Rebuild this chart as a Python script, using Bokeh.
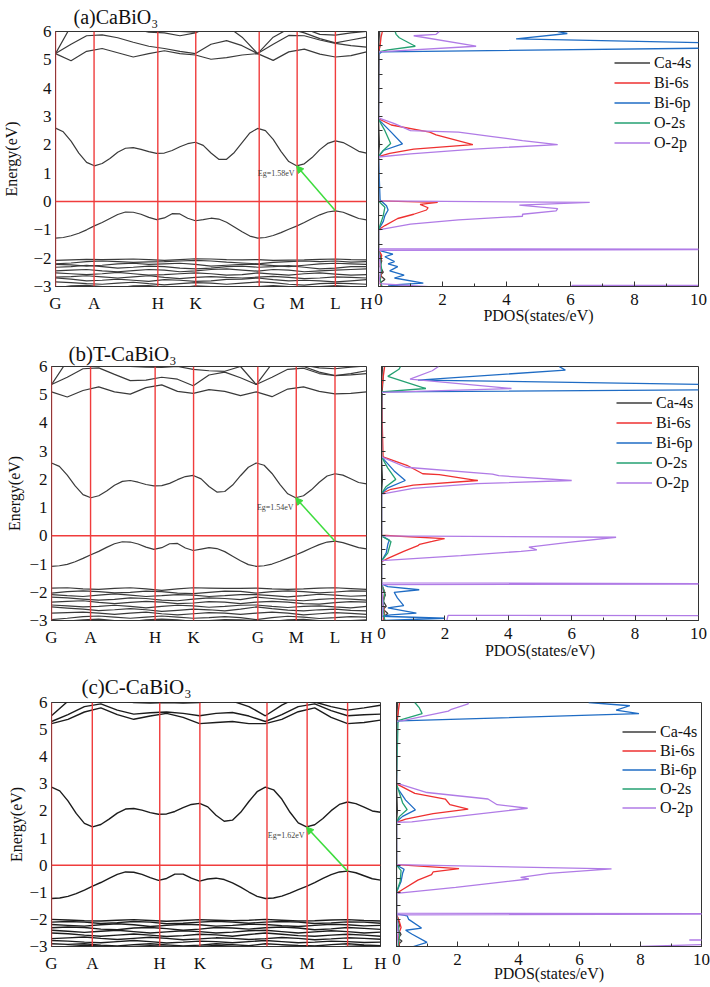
import math
from bokeh.plotting import figure
from bokeh.layouts import column, row
from bokeh.models import (Span, Label, Arrow, NormalHead, FixedTicker, Legend,
                          LegendItem, Range1d, CustomJSTickFormatter)
from bokeh.embed import file_html
from bokeh.resources import INLINE

NAN = float("nan")

# ---------------- k-path ----------------
K_POS = [0.0, 0.124, 0.329, 0.451, 0.655, 0.777, 0.9, 1.0]
K_LABELS = ["G", "A", "H", "K", "G", "M", "L", "H"]
E_TICKS = [-3, -2, -1, 0, 1, 2, 3, 4, 5, 6]
E_MINOR = [-2.5, -1.5, -0.5, 0.5, 1.5, 2.5, 3.5, 4.5, 5.5]
D_TICKS = [0, 2, 4, 6, 8, 10]
D_MINOR = [1, 3, 5, 7, 9]

X_FINE = [0.0, 0.025, 0.05, 0.075, 0.1, 0.125, 0.15, 0.175, 0.2, 0.225, 0.25,
          0.275, 0.3, 0.325, 0.35, 0.375, 0.4, 0.425, 0.45, 0.475, 0.5, 0.525,
          0.55, 0.575, 0.6, 0.625, 0.65, 0.675, 0.7, 0.725, 0.75, 0.775, 0.8,
          0.825, 0.85, 0.875, 0.9, 0.925, 0.95, 0.975, 1.0]
X_COARSE = [0.0, 0.05, 0.1, 0.15, 0.2, 0.25, 0.3, 0.35, 0.4, 0.45, 0.5, 0.55,
            0.6, 0.65, 0.7, 0.75, 0.8, 0.85, 0.9, 0.95, 1.0]

TITLES = ["(a)CaBiO\u2083", "(b)T-CaBiO\u2083", "(c)C-CaBiO\u2083"]
EG_VALUES = [1.58, 1.54, 1.62]
SPECIES = ["Ca-4s", "Bi-6s", "Bi-6p", "O-2s", "O-2p"]

# ---------------- (a) CaBiO3 bands ----------------
A_CB = [2.59, 2.46, 2.13, 1.71, 1.38, 1.26, 1.34, 1.52, 1.74, 1.88, 1.90, 1.84, 1.76, 1.70, 1.71,
        1.80, 1.93, 2.04, 2.09, 1.98, 1.71, 1.49, 1.49, 1.73, 2.08, 2.42, 2.58, 2.50, 2.19, 1.77,
        1.41, 1.26, 1.33, 1.55, 1.83, 2.05, 2.14, 2.08, 1.93, 1.77, 1.71]
A_VB = [-1.29, -1.27, -1.21, -1.12, -1.00, -0.86, -0.74, -0.60, -0.46, -0.37, -0.38, -0.45, -0.56,
        -0.64, -0.58, -0.43, -0.44, -0.59, -0.68, -0.64, -0.59, -0.62, -0.73, -0.90, -1.07, -1.22,
        -1.29, -1.27, -1.20, -1.10, -0.98, -0.87, -0.74, -0.60, -0.47, -0.37, -0.33, -0.38, -0.49,
        -0.60, -0.65]
A_UP1 = [5.22, 4.97, 5.30, 5.40, 5.25, 5.10, 5.22, 5.32, 5.22, 5.17, 5.02, 5.08, 5.17, 5.22, 4.98, 5.28, 5.38, 5.20, 5.10, 5.15, 5.28]
A_UP2 = [5.22, 5.55, 5.85, 5.88, 5.78, 5.62, 5.48, 5.40, 5.30, 5.22, 5.55, 5.68, 5.50, 5.22, 5.55, 5.86, 5.85, 5.70, 5.58, 5.50, 5.45]
A_UP3 = [5.22, 6.20, 6.40, 6.40, 6.30, 6.10, 5.98, 5.95, 5.85, 5.95, 6.20, 6.20, 5.80, 5.22, 5.80, 6.10, 5.95, 5.75, 5.60, 5.70, 5.80]
A_UP4 = [6.50, 6.50, 6.30, 6.05, 6.00, 6.10, 6.20, 6.20, 6.00, 5.98, 6.20, 6.40, 6.30, 6.10, 6.40, 6.30, 6.10, 5.90, 5.87, 5.95, 6.00]
A_LO1 = [-2.08, -2.06, -2.04, -2.05, -2.04, -2.03, -2.05, -2.08, -2.05, -2.02, -2.03, -2.05, -2.06, -2.05, -2.08, -2.07, -2.06, -2.04, -2.03, -2.05, -2.06]
A_LO2 = [-2.20, -2.17, -2.12, -2.10, -2.12, -2.15, -2.13, -2.12, -2.10, -2.08, -2.10, -2.14, -2.17, -2.20, -2.15, -2.12, -2.10, -2.12, -2.10, -2.14, -2.12]
A_LO3 = [-2.22, -2.24, -2.28, -2.25, -2.20, -2.18, -2.22, -2.20, -2.18, -2.22, -2.28, -2.25, -2.22, -2.22, -2.26, -2.30, -2.25, -2.20, -2.18, -2.20, -2.22]
A_LO4 = [-2.32, -2.30, -2.25, -2.30, -2.35, -2.32, -2.28, -2.30, -2.35, -2.38, -2.35, -2.30, -2.28, -2.32, -2.30, -2.26, -2.32, -2.38, -2.35, -2.30, -2.30]
A_LO5 = [-2.45, -2.42, -2.40, -2.45, -2.48, -2.44, -2.40, -2.42, -2.48, -2.45, -2.40, -2.38, -2.42, -2.46, -2.40, -2.42, -2.48, -2.45, -2.42, -2.40, -2.38]
A_LO6 = [-2.52, -2.55, -2.58, -2.55, -2.50, -2.55, -2.60, -2.58, -2.55, -2.52, -2.55, -2.60, -2.58, -2.52, -2.56, -2.60, -2.55, -2.52, -2.56, -2.60, -2.58]
A_LO7 = [-2.67, -2.65, -2.62, -2.66, -2.70, -2.66, -2.62, -2.68, -2.72, -2.68, -2.65, -2.68, -2.70, -2.67, -2.64, -2.68, -2.72, -2.70, -2.66, -2.68, -2.70]
A_LO8 = [-2.70, -2.74, -2.80, -2.78, -2.74, -2.78, -2.82, -2.76, -2.78, -2.82, -2.80, -2.75, -2.74, -2.70, -2.76, -2.80, -2.78, -2.80, -2.84, -2.80, -2.76]
A_LO9 = [-2.84, -2.86, -2.90, -2.92, -2.88, -2.85, -2.90, -2.94, -2.90, -2.86, -2.88, -2.92, -2.88, -2.84, -2.86, -2.92, -2.95, -2.90, -2.88, -2.90, -2.92]
A_LO10 = [-3.05, -2.98, -2.96, -3.00, -3.05, -2.98, -2.97, -3.02, -3.05, -2.98, -3.00, -3.05, -3.02, -3.00, -2.97, -3.00, -3.05, -3.00, -2.97, -3.00, -3.02]

# ---------------- (b) T-CaBiO3 bands ----------------
B_CB = [2.58, 2.46, 2.15, 1.77, 1.46, 1.35, 1.42, 1.59, 1.79, 1.93, 1.96, 1.90, 1.82, 1.77, 1.78,
        1.86, 1.99, 2.10, 2.14, 2.02, 1.75, 1.55, 1.57, 1.80, 2.13, 2.43, 2.58, 2.50, 2.21, 1.82,
        1.49, 1.35, 1.42, 1.63, 1.90, 2.12, 2.20, 2.15, 2.02, 1.89, 1.84]
B_VB = [-1.08, -1.06, -1.01, -0.92, -0.80, -0.67, -0.55, -0.41, -0.28, -0.21, -0.22, -0.29, -0.40,
        -0.48, -0.42, -0.28, -0.27, -0.43, -0.52, -0.47, -0.42, -0.45, -0.56, -0.72, -0.88, -1.02,
        -1.08, -1.06, -1.00, -0.90, -0.79, -0.68, -0.56, -0.43, -0.31, -0.22, -0.19, -0.24, -0.33,
        -0.42, -0.46]
B_UP1 = [5.10, 4.92, 5.15, 5.28, 5.10, 5.02, 5.25, 5.35, 5.12, 5.05, 5.18, 5.12, 4.97, 5.10, 4.93, 5.20, 5.28, 5.12, 5.03, 5.05, 5.10]
B_UP2 = [5.36, 5.62, 5.92, 5.95, 5.72, 5.50, 5.52, 5.62, 5.55, 5.32, 5.70, 5.80, 5.60, 5.36, 5.62, 5.90, 5.94, 5.75, 5.68, 5.70, 5.75]
B_UP3 = [5.36, 6.20, 6.40, 6.30, 6.10, 6.00, 5.98, 5.97, 6.00, 5.90, 5.85, 5.83, 6.00, 5.36, 6.10, 6.20, 6.00, 5.80, 5.68, 5.75, 5.85]
B_UP4 = [6.40, 6.50, 6.30, 6.05, 6.00, 6.15, 6.30, 6.20, 6.05, 6.00, 6.20, 6.30, 6.30, 6.20, 6.40, 6.20, 6.05, 5.95, 5.92, 5.98, 6.02]
B_LO1 = [-1.85, -1.84, -1.88, -1.90, -1.86, -1.84, -1.88, -1.93, -1.88, -1.84, -1.85, -1.86, -1.86, -1.85, -1.88, -1.90, -1.88, -1.85, -1.84, -1.87, -1.90]
B_LO2 = [-2.03, -1.98, -1.95, -1.98, -2.02, -2.00, -1.96, -1.98, -2.03, -2.05, -2.00, -1.96, -1.97, -2.03, -1.98, -1.95, -1.98, -2.02, -1.99, -1.95, -1.96]
B_LO3 = [-2.08, -2.12, -2.15, -2.10, -2.06, -2.10, -2.15, -2.12, -2.08, -2.10, -2.15, -2.12, -2.08, -2.08, -2.12, -2.16, -2.12, -2.07, -2.10, -2.14, -2.12]
B_LO4 = [-2.17, -2.20, -2.24, -2.28, -2.25, -2.20, -2.22, -2.28, -2.30, -2.24, -2.20, -2.22, -2.26, -2.17, -2.22, -2.27, -2.30, -2.25, -2.22, -2.24, -2.28]
B_LO5 = [-2.35, -2.32, -2.30, -2.36, -2.40, -2.36, -2.32, -2.35, -2.40, -2.38, -2.33, -2.35, -2.40, -2.35, -2.32, -2.35, -2.40, -2.42, -2.37, -2.33, -2.35]
B_LO6 = [-2.45, -2.48, -2.52, -2.50, -2.46, -2.50, -2.55, -2.50, -2.46, -2.48, -2.53, -2.50, -2.46, -2.45, -2.50, -2.54, -2.50, -2.48, -2.52, -2.55, -2.50]
B_LO7 = [-2.52, -2.56, -2.60, -2.65, -2.62, -2.58, -2.62, -2.68, -2.64, -2.60, -2.62, -2.66, -2.60, -2.52, -2.58, -2.63, -2.66, -2.62, -2.60, -2.64, -2.66]
B_LO8 = [-2.74, -2.72, -2.70, -2.74, -2.78, -2.74, -2.70, -2.76, -2.80, -2.76, -2.72, -2.74, -2.78, -2.74, -2.70, -2.74, -2.80, -2.76, -2.72, -2.75, -2.78]
B_LO9 = [-2.97, -2.92, -2.86, -2.84, -2.88, -2.92, -2.88, -2.84, -2.88, -2.92, -2.90, -2.86, -2.90, -2.97, -2.90, -2.85, -2.88, -2.93, -2.90, -2.86, -2.88]
B_LO10 = [-3.00, -3.02, -2.98, -2.95, -3.00, -3.04, -2.98, -2.95, -2.98, -3.03, -3.00, -2.97, -2.98, -3.00, -3.03, -2.98, -2.96, -3.00, -3.03, -3.00, -2.98]

# ---------------- (c) C-CaBiO3 bands ----------------
C_CB = [2.88, 2.74, 2.37, 1.91, 1.54, 1.41, 1.50, 1.70, 1.92, 2.07, 2.09, 2.03, 1.94, 1.88, 1.89,
        1.98, 2.12, 2.24, 2.28, 2.15, 1.84, 1.62, 1.66, 1.95, 2.35, 2.71, 2.88, 2.78, 2.44, 1.95,
        1.56, 1.41, 1.49, 1.72, 2.01, 2.24, 2.33, 2.27, 2.14, 2.00, 1.95]
C_VB = [-1.23, -1.21, -1.15, -1.05, -0.92, -0.77, -0.64, -0.49, -0.34, -0.25, -0.26, -0.34, -0.46,
        -0.56, -0.49, -0.33, -0.33, -0.48, -0.59, -0.51, -0.48, -0.53, -0.65, -0.81, -0.99, -1.15,
        -1.23, -1.21, -1.14, -1.03, -0.90, -0.78, -0.64, -0.49, -0.35, -0.25, -0.22, -0.28, -0.39,
        -0.50, -0.55]
C_UP1 = [5.22, 5.38, 5.65, 5.80, 5.55, 5.38, 5.50, 5.60, 5.45, 5.22, 5.26, 5.30, 5.22, 5.22, 5.38, 5.66, 5.80, 5.45, 5.22, 5.26, 5.35]
C_UP2 = [5.30, 5.55, 5.85, 5.95, 5.72, 5.57, 5.62, 5.65, 5.60, 5.51, 5.60, 5.63, 5.50, 5.30, 5.55, 5.85, 5.95, 5.70, 5.51, 5.55, 5.57]
C_UP3 = [5.51, 6.05, 6.30, 6.30, 6.10, 6.00, 5.98, 6.00, 5.98, 6.00, 6.10, 6.05, 5.85, 5.51, 5.90, 6.20, 6.02, 5.85, 5.72, 5.80, 5.90]
C_UP4 = [6.30, 6.40, 6.20, 6.02, 6.10, 6.20, 6.30, 6.20, 6.10, 6.05, 6.30, 6.40, 6.30, 6.30, 6.40, 6.10, 6.00, 6.08, 6.20, 6.10, 6.05]
C_LO1 = [-2.00, -2.02, -2.05, -2.06, -2.03, -2.01, -2.04, -2.07, -2.04, -2.01, -2.03, -2.05, -2.03, -2.00, -2.03, -2.06, -2.05, -2.02, -2.01, -2.04, -2.06]
C_LO2 = [-2.10, -2.08, -2.10, -2.15, -2.12, -2.08, -2.10, -2.16, -2.14, -2.10, -2.07, -2.10, -2.14, -2.10, -2.08, -2.10, -2.15, -2.13, -2.09, -2.10, -2.14]
C_LO3 = [-2.19, -2.22, -2.25, -2.20, -2.16, -2.20, -2.26, -2.22, -2.18, -2.20, -2.25, -2.22, -2.18, -2.19, -2.23, -2.26, -2.22, -2.18, -2.20, -2.24, -2.22]
C_LO4 = [-2.31, -2.28, -2.30, -2.36, -2.38, -2.32, -2.30, -2.34, -2.40, -2.36, -2.30, -2.32, -2.36, -2.31, -2.28, -2.32, -2.38, -2.35, -2.30, -2.33, -2.37]
C_LO5 = [-2.40, -2.44, -2.48, -2.44, -2.40, -2.45, -2.50, -2.46, -2.42, -2.45, -2.50, -2.47, -2.42, -2.40, -2.45, -2.50, -2.46, -2.42, -2.45, -2.50, -2.47]
C_LO6 = [-2.50, -2.53, -2.58, -2.62, -2.58, -2.54, -2.58, -2.63, -2.60, -2.55, -2.57, -2.62, -2.56, -2.50, -2.55, -2.60, -2.62, -2.58, -2.55, -2.58, -2.62]
C_LO7 = [-2.71, -2.68, -2.65, -2.70, -2.74, -2.70, -2.66, -2.70, -2.75, -2.72, -2.68, -2.70, -2.74, -2.71, -2.67, -2.70, -2.75, -2.72, -2.68, -2.70, -2.73]
C_LO8 = [-2.78, -2.80, -2.84, -2.86, -2.82, -2.78, -2.82, -2.87, -2.84, -2.80, -2.82, -2.86, -2.82, -2.78, -2.82, -2.86, -2.84, -2.80, -2.82, -2.85, -2.84]
C_LO9 = [-2.90, -2.92, -2.90, -2.95, -2.98, -2.93, -2.90, -2.94, -2.98, -2.95, -2.90, -2.93, -2.97, -2.90, -2.93, -2.96, -2.98, -2.93, -2.90, -2.94, -2.97]
C_LO10 = [-3.05, -3.00, -2.96, -2.98, -3.03, -3.00, -2.97, -2.99, -3.04, -3.00, -2.96, -2.99, -3.03, -3.05, -3.00, -2.97, -3.00, -3.04, -3.00, -2.97, -3.00]

# ---------------- PDOS (states/eV) vs energy ----------------
# (a)
A_CA_E = [6.0, 5.6, 5.3, 2.9, 2.0, 1.6, 0.0, -1.0, -1.7, -1.9, -2.1, -2.3, -2.5, -2.6, -2.75, -2.85, -3.0]
A_CA_D = [0.03, 0.05, 0.02, 0.0, 0.03, 0.0, 0.0, 0.0, 0.0, 0.05, 0.1, 0.05, 0.15, 0.05, 0.2, 0.08, 0.1]
A_BIS_E = [6.0, 5.8, 5.5, 5.3, 2.92, 2.7, 2.45, 2.35, 2.01, 1.85, 1.7, 1.58, 0.02, -0.03, -0.1, -0.22, -0.3, -0.45, -0.6, -0.85, -1.0, -1.7, -1.9, -2.2, -2.5, -2.8, -3.0]
A_BIS_D = [0.12, 0.08, 0.05, 0.0, 0.0, 0.4, 1.6, 1.8, 2.95, 1.1, 0.35, 0.0, 0.0, 1.85, 1.3, 1.55, 1.5, 1.1, 0.6, 0.2, 0.0, 0.0, 0.1, 0.05, 0.1, 0.05, 0.08]
A_BIP_E = [6.0, 5.93, 5.74, 5.52, 5.46, 5.28, 5.2, 2.9, 2.5, 2.03, 1.8, 1.58, 0.05, -0.15, -0.3, -0.5, -0.7, -1.0, -1.7, -1.75, -1.86, -1.95, -2.12, -2.2, -2.3, -2.45, -2.6, -2.7, -2.88, -2.95, -3.0]
A_BIP_D = [5.6, 5.9, 4.3, 14.0, 14.0, 0.1, 0.0, 0.0, 0.35, 0.75, 0.15, 0.0, 0.05, 0.25, 0.3, 0.2, 0.15, 0.0, 0.0, 0.1, 0.45, 0.2, 0.5, 0.3, 0.6, 0.35, 0.8, 0.5, 1.4, 0.3, 1.0]
A_OS_E = [6.0, 5.9, 5.78, 5.48, 5.35, 5.28, 2.9, 2.5, 2.05, 1.8, 1.6, 0.02, -0.2, -0.5, -1.0, -1.7, -2.0, -2.4, -2.7, -3.0]
A_OS_D = [0.52, 0.55, 0.65, 1.15, 0.3, 0.0, 0.0, 0.2, 0.38, 0.15, 0.0, 0.0, 0.2, 0.15, 0.0, 0.0, 0.05, 0.1, 0.05, 0.1]
A_OP_E = [6.0, 5.9, 5.85, 5.48, 5.28, 2.95, 2.75, 2.5, 2.45, 2.3, 2.15, 2.01, 1.85, 1.68, 1.57, 0.02, -0.03, -0.13, -0.25, -0.33, -0.45, -0.52, -0.65, -0.8, -1.0, -1.66, -1.69, -1.72, -2.2, -2.6, -2.9, -3.3, -2.96, -2.97]
A_OP_D = [1.9, 1.8, 1.1, 3.05, 0.0, 0.0, 0.5, 1.0, 2.5, 3.5, 4.5, 5.6, 3.0, 1.0, 0.0, 0.0, 6.6, 4.4, 5.6, 5.55, 4.5, 4.5, 2.5, 1.0, 0.0, 0.0, 14.0, 0.0, 0.05, 0.05, 0.0, 5.95, 6.05, 14.0]
# (b)
B_CA_E = [6.0, 5.6, 5.1, 2.8, 2.0, 1.5, 0.0, -0.9, -1.7, -1.9, -2.1, -2.3, -2.5, -2.6, -2.75, -2.85, -3.0]
B_CA_D = [0.03, 0.05, 0.02, 0.0, 0.03, 0.0, 0.0, 0.0, 0.0, 0.05, 0.12, 0.05, 0.15, 0.05, 0.2, 0.08, 0.1]
B_BIS_E = [6.0, 5.6, 5.1, 2.8, 2.5, 2.2, 2.17, 1.96, 1.8, 1.65, 1.5, 0.02, -0.1, -0.2, -0.3, -0.35, -0.55, -0.8, -0.92, -1.7, -2.0, -2.4, -2.8, -3.0]
B_BIS_D = [0.1, 0.05, 0.0, 0.05, 0.8, 1.3, 1.82, 3.04, 1.0, 0.3, 0.0, 0.0, 1.99, 1.6, 1.2, 1.15, 0.7, 0.2, 0.0, 0.0, 0.1, 0.05, 0.1, 0.05]
B_BIP_E = [6.0, 5.87, 5.52, 5.3, 5.2, 5.1, 2.8, 2.3, 1.96, 1.7, 1.5, 0.0, -0.15, -0.3, -0.6, -0.9, -1.7, -1.8, -1.91, -2.0, -2.2, -2.47, -2.55, -2.74, -2.8, -2.85, -2.92, -3.0]
B_BIP_D = [5.6, 5.8, 1.15, 14.0, 14.0, 0.0, 0.0, 0.4, 0.75, 0.2, 0.0, 0.0, 0.25, 0.2, 0.15, 0.0, 0.0, 0.2, 1.19, 0.4, 0.5, 0.7, 0.2, 1.1, 0.3, 0.0, 2.0, 0.1]
B_OS_E = [6.0, 5.9, 5.65, 5.22, 5.1, 2.8, 2.4, 2.0, 1.75, 1.5, 0.0, -0.2, -0.6, -0.9, -1.7, -2.0, -2.5, -3.0]
B_OS_D = [0.6, 0.55, 0.2, 1.4, 0.0, 0.0, 0.2, 0.45, 0.15, 0.0, 0.0, 0.3, 0.2, 0.0, 0.0, 0.1, 0.05, 0.1]
B_OP_E = [6.0, 5.85, 5.55, 5.22, 5.08, 2.8, 2.43, 2.19, 2.13, 1.96, 1.85, 1.68, 1.48, 0.0, -0.05, -0.23, -0.4, -0.5, -0.55, -0.7, -0.88, -1.67, -1.7, -1.73, -2.5, -3.05, -3.3, -2.82, -2.83]
B_OP_D = [1.8, 1.6, 0.9, 4.1, 0.0, 0.0, 0.77, 3.5, 3.7, 6.0, 3.0, 1.0, 0.0, 0.0, 7.4, 5.9, 4.65, 4.9, 4.4, 2.5, 0.0, 0.0, 14.0, 0.0, 0.05, 0.0, 2.0, 2.1, 14.0]
# (c)
C_CA_E = [6.0, 5.6, 5.3, 3.0, 2.0, 1.6, 0.0, -1.0, -1.8, -2.0, -2.2, -2.4, -2.55, -2.7, -2.8, -2.9, -3.0]
C_CA_D = [0.03, 0.05, 0.02, 0.0, 0.03, 0.0, 0.0, 0.0, 0.0, 0.05, 0.1, 0.05, 0.15, 0.05, 0.18, 0.08, 0.1]
C_BIS_E = [6.0, 5.6, 5.3, 3.0, 2.65, 2.44, 2.23, 2.07, 1.9, 1.7, 1.58, 0.02, -0.13, -0.25, -0.35, -0.55, -0.9, -1.04, -1.8, -2.1, -2.3, -2.6, -2.9, -3.0]
C_BIS_D = [0.1, 0.05, 0.0, 0.0, 0.6, 1.6, 1.75, 2.35, 1.2, 0.3, 0.0, 0.0, 2.05, 1.2, 1.15, 0.7, 0.2, 0.0, 0.0, 0.1, 0.15, 0.05, 0.1, 0.05]
C_BIP_E = [6.0, 5.88, 5.72, 5.59, 5.32, 5.25, 2.9, 2.4, 2.04, 1.8, 1.6, 0.0, -0.15, -0.3, -0.6, -1.0, -1.8, -1.87, -2.0, -2.32, -2.4, -2.54, -2.85, -3.0]
C_BIP_D = [6.3, 7.65, 7.2, 7.95, 0.1, 0.0, 0.0, 0.3, 0.62, 0.2, 0.0, 0.0, 0.25, 0.2, 0.15, 0.0, 0.0, 0.35, 0.4, 0.82, 0.3, 0.5, 1.0, 0.55]
C_OS_E = [6.0, 5.8, 5.59, 5.33, 3.0, 2.3, 2.05, 1.8, 1.6, 0.0, -0.2, -0.6, -1.0, -1.8, -2.2, -2.6, -3.0]
C_OS_D = [0.6, 0.75, 0.84, 0.05, 0.0, 0.2, 0.35, 0.1, 0.0, 0.0, 0.15, 0.12, 0.0, 0.0, 0.05, 0.1, 0.05]
C_OP_E = [6.0, 5.95, 5.75, 5.68, 5.33, 5.3, 3.03, 2.68, 2.44, 2.23, 2.1, 1.8, 1.6, 1.58, 0.02, -0.14, -0.3, -0.45, -0.51, -0.82, -1.04, -1.77, -1.8, -1.83, -2.5, -3.05, -3.3, -3.0, -2.93, -2.9, NAN, -2.76, -2.76]
C_OP_D = [2.35, 2.35, 1.8, 1.7, 0.2, 0.0, 0.0, 1.0, 3.0, 3.3, 4.3, 2.0, 0.5, 0.0, 0.0, 7.05, 5.0, 4.07, 4.34, 1.94, 0.0, 0.0, 14.0, 0.0, 0.05, 0.0, 7.9, 8.0, 10.0, 14.0, NAN, 9.6, 14.0]

# ---------------- styling ----------------
FONT = "Liberation Serif"
RED = "#f03c3c"
GREEN = "#3ddc3d"
COLORS = ["#3d3d3d", "#ee3030", "#1f6cc4", "#25a172", "#b07be6"]
FRAME = "#333333"
TXT = "#111111"


def band_fig(w, h, bl, br, bt, bb, cb, vb, ups, lows, title, tsize, toff, tstand,
             eg, eg_y, lab_so, band_col, band_w):
    p = figure(width=w, height=h, x_range=Range1d(0, 1), y_range=Range1d(-3, 6),
               output_backend="svg", toolbar_location=None,
               min_border_left=bl, min_border_right=br, min_border_top=bt,
               min_border_bottom=bb)
    p.xgrid.visible = False
    p.ygrid.visible = False
    p.outline_line_color = FRAME
    p.outline_line_width = 1
    p.background_fill_color = "white"

    p.title.text = title
    p.title.align = "left"
    p.title.offset = toff
    p.title.standoff = tstand
    p.title.text_font = FONT
    p.title.text_font_size = "%dpx" % tsize
    p.title.text_font_style = "normal"
    p.title.text_color = TXT

    xs = [X_FINE, X_FINE] + [X_COARSE] * (len(ups) + len(lows))
    ys = [cb, vb] + ups + lows
    p.multi_line(xs, ys, line_color=band_col, line_width=band_w)

    for k in K_POS[:-1]:
        p.add_layout(Span(location=k, dimension="height", line_color=RED, line_width=1.4))
    p.add_layout(Span(location=0, dimension="width", line_color=RED, line_width=1.5))

    # gap arrow: from VBM at L to CBM at M
    iL = X_FINE.index(0.9)
    iM = X_FINE.index(0.775)
    p.add_layout(Arrow(end=NormalHead(size=7, fill_color=GREEN, line_color=GREEN),
                       x_start=X_FINE[iL], y_start=vb[iL], x_end=X_FINE[iM], y_end=cb[iM],
                       line_color=GREEN, line_width=1.5))
    p.add_layout(Label(x=X_FINE[iM], y=eg_y, x_offset=-2, text="Eg=%.2feV" % eg,
                       text_align="right", text_baseline="middle", text_font=FONT,
                       text_font_size="8px", text_color="#444444"))

    p.xaxis.ticker = FixedTicker(ticks=K_POS)
    p.xaxis.major_label_overrides = {k: l for k, l in zip(K_POS, K_LABELS)}
    p.xaxis.major_tick_in = 0
    p.xaxis.major_tick_out = 0
    p.xaxis.minor_tick_line_color = None
    p.xaxis.major_label_standoff = 7
    p.xaxis.major_label_text_font = FONT
    p.xaxis.major_label_text_font_size = "17px"
    p.xaxis.major_label_text_color = TXT
    p.xaxis.axis_line_color = FRAME

    p.yaxis.ticker = FixedTicker(ticks=E_TICKS)
    p.yaxis.major_tick_in = 0
    p.yaxis.major_tick_out = 0
    p.yaxis.minor_tick_line_color = None
    p.yaxis.major_label_standoff = 4
    p.yaxis.major_label_text_font = FONT
    p.yaxis.major_label_text_font_size = "17px"
    p.yaxis.major_label_text_color = TXT
    p.yaxis.axis_line_color = FRAME
    p.yaxis.axis_label = "Energy(eV)"
    p.yaxis.axis_label_text_font = FONT
    p.yaxis.axis_label_text_font_style = "normal"
    p.yaxis.axis_label_text_font_size = "16px"
    p.yaxis.axis_label_text_color = TXT
    p.yaxis.axis_label_standoff = lab_so
    return p


def pdos_fig(w, h, bl, br, bt, bb, curves, leg_x, leg_y, leg_h, leg_sp, glyph_w, lab_so):
    p = figure(width=w, height=h, x_range=Range1d(0, 10), y_range=Range1d(-3, 6),
               output_backend="svg", toolbar_location=None,
               min_border_left=bl, min_border_right=br, min_border_top=bt,
               min_border_bottom=bb)
    p.xgrid.visible = False
    p.ygrid.visible = False
    p.outline_line_color = FRAME
    p.outline_line_width = 1

    items = []
    for name, col, (ev, dv) in zip(SPECIES, COLORS, curves):
        r = p.line(x=dv, y=ev, line_color=col, line_width=1.3)
        items.append(LegendItem(label=name, renderers=[r]))
    leg = Legend(items=items, location=(leg_x, leg_y), padding=0, margin=0, spacing=leg_sp,
                 glyph_width=glyph_w, glyph_height=leg_h, label_height=leg_h,
                 label_standoff=4, label_text_font=FONT, label_text_font_size="16px",
                 label_text_color=TXT, border_line_alpha=0,
                 background_fill_alpha=0)
    p.add_layout(leg)

    p.xaxis.ticker = FixedTicker(ticks=D_TICKS, minor_ticks=D_MINOR)
    p.xaxis.major_tick_in = 5
    p.xaxis.major_tick_out = 0
    p.xaxis.minor_tick_in = 3
    p.xaxis.minor_tick_out = 0
    p.xaxis.major_label_standoff = 7
    p.xaxis.major_label_text_font = FONT
    p.xaxis.major_label_text_font_size = "17px"
    p.xaxis.major_label_text_color = TXT
    p.xaxis.axis_line_color = FRAME
    p.xaxis.major_tick_line_color = FRAME
    p.xaxis.minor_tick_line_color = FRAME
    p.xaxis.axis_label = "PDOS(states/eV)"
    p.xaxis.axis_label_text_font = FONT
    p.xaxis.axis_label_text_font_style = "normal"
    p.xaxis.axis_label_text_font_size = "16px"
    p.xaxis.axis_label_text_color = TXT
    p.xaxis.axis_label_standoff = lab_so

    p.yaxis.ticker = FixedTicker(ticks=E_TICKS, minor_ticks=E_MINOR)
    p.yaxis.formatter = CustomJSTickFormatter(code="return ''")
    p.yaxis.major_tick_in = 4
    p.yaxis.major_tick_out = 0
    p.yaxis.minor_tick_in = 4
    p.yaxis.minor_tick_out = 0
    p.yaxis.major_label_standoff = 0
    p.yaxis.axis_line_color = FRAME
    p.yaxis.major_tick_line_color = FRAME
    p.yaxis.minor_tick_line_color = FRAME
    return p


A_UPS = [A_UP1, A_UP2, A_UP3, A_UP4]
A_LOWS = [A_LO1, A_LO2, A_LO3, A_LO4, A_LO5, A_LO6, A_LO7, A_LO8, A_LO9, A_LO10]
B_UPS = [B_UP1, B_UP2, B_UP3, B_UP4]
B_LOWS = [B_LO1, B_LO2, B_LO3, B_LO4, B_LO5, B_LO6, B_LO7, B_LO8, B_LO9, B_LO10]
C_UPS = [C_UP1, C_UP2, C_UP3, C_UP4]
C_LOWS = [C_LO1, C_LO2, C_LO3, C_LO4, C_LO5, C_LO6, C_LO7, C_LO8, C_LO9, C_LO10]

A_CURVES = [(A_CA_E, A_CA_D), (A_BIS_E, A_BIS_D), (A_BIP_E, A_BIP_D), (A_OS_E, A_OS_D), (A_OP_E, A_OP_D)]
B_CURVES = [(B_CA_E, B_CA_D), (B_BIS_E, B_BIS_D), (B_BIP_E, B_BIP_D), (B_OS_E, B_OS_D), (B_OP_E, B_OP_D)]
C_CURVES = [(C_CA_E, C_CA_D), (C_BIS_E, C_BIS_D), (C_BIP_E, C_BIP_D), (C_OS_E, C_OS_D), (C_OP_E, C_OP_D)]

# row 1: canvas y 0..336, frames 29..286
a_band = band_fig(372, 336, 47, 6, 29, 50, A_CB, A_VB, A_UPS, A_LOWS, TITLES[0], 20,
                  18, 7, EG_VALUES[0], 1.0, 10, "#3a3a3a", 1.2)
a_pdos = pdos_fig(338, 336, 6, 12, 29, 50, A_CURVES, 236, 134, 19, 1, 36, -1)

# row 2: canvas y 336..668, frames 366..620
b_band = band_fig(374, 332, 51, 8, 30, 48, B_CB, B_VB, B_UPS, B_LOWS, TITLES[1], 21,
                  17, 2, EG_VALUES[1], 1.0, 3, "#3a3a3a", 1.2)
b_pdos = pdos_fig(336, 332, 7, 12, 30, 48, B_CURVES, 235, 128, 19, 1, 36, 0)

# row 3: canvas y 668..987, frames 702..946
c_band = band_fig(388, 319, 51, 8, 34, 41, C_CB, C_VB, C_UPS, C_LOWS, TITLES[2], 21,
                  30, 8, EG_VALUES[2], 1.08, 1, "#1c1c1c", 1.4)
c_pdos = pdos_fig(322, 319, 8, 9, 34, 41, C_CURVES, 226, 129, 19, 0, 34, -3)

layout = column(row(a_band, a_pdos), row(b_band, b_pdos), row(c_band, c_pdos))

html = file_html(layout, INLINE, title="CaBiO3 band structure and PDOS")
with open("out.html", "w") as f:
    f.write(html)
